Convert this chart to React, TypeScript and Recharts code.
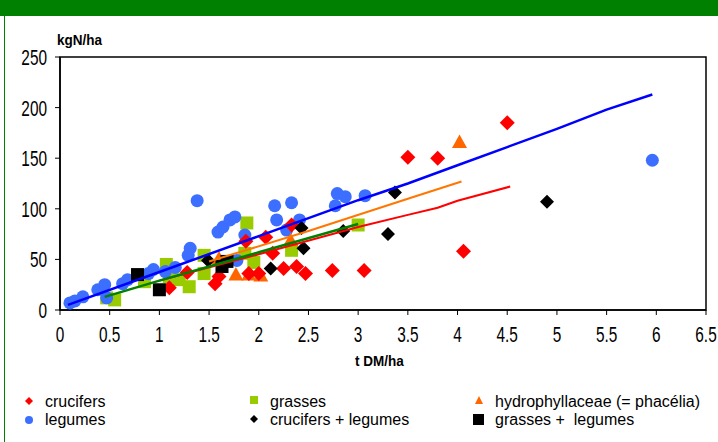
import React from "react";
import { ScatterChart, Scatter, XAxis, YAxis, ReferenceArea } from "recharts";

const xTicks = [0, 0.5, 1, 1.5, 2, 2.5, 3, 3.5, 4, 4.5, 5, 5.5, 6, 6.5];
const yTicks = [0, 50, 100, 150, 200, 250];

const legumes = [
  { x: 0.1, y: 7 }, { x: 0.15, y: 9 }, { x: 0.23, y: 13 }, { x: 0.38, y: 20 },
  { x: 0.45, y: 25 }, { x: 0.47, y: 12 }, { x: 0.63, y: 26 }, { x: 0.68, y: 30 },
  { x: 0.89, y: 36 }, { x: 0.94, y: 40 }, { x: 1.06, y: 38 }, { x: 1.16, y: 42 },
  { x: 1.29, y: 54 }, { x: 1.31, y: 61 }, { x: 1.38, y: 108 }, { x: 1.59, y: 77 },
  { x: 1.64, y: 82 }, { x: 1.71, y: 89 }, { x: 1.76, y: 92 }, { x: 1.78, y: 49 },
  { x: 1.86, y: 74 }, { x: 2.16, y: 103 }, { x: 2.18, y: 89 }, { x: 2.28, y: 79 },
  { x: 2.33, y: 106 }, { x: 2.41, y: 89 }, { x: 2.77, y: 103 }, { x: 2.79, y: 115 },
  { x: 2.87, y: 112 }, { x: 3.07, y: 113 }, { x: 5.96, y: 148 },
];

const crucifers = [
  { x: 1.1, y: 22 }, { x: 1.28, y: 37 }, { x: 1.56, y: 26 }, { x: 1.6, y: 33 },
  { x: 1.87, y: 68 }, { x: 1.9, y: 36 }, { x: 2.0, y: 36 }, { x: 2.07, y: 72 },
  { x: 2.14, y: 56 }, { x: 2.25, y: 41 }, { x: 2.33, y: 84 }, { x: 2.38, y: 43 },
  { x: 2.47, y: 36 }, { x: 2.74, y: 39 }, { x: 3.06, y: 39 }, { x: 3.5, y: 151 },
  { x: 3.8, y: 150 }, { x: 4.06, y: 58 }, { x: 4.5, y: 185 },
];

const grasses = [
  { x: 0.47, y: 12 }, { x: 0.55, y: 10 }, { x: 0.85, y: 28 }, { x: 1.07, y: 45 },
  { x: 1.1, y: 33 }, { x: 1.2, y: 30 }, { x: 1.3, y: 23 }, { x: 1.45, y: 54 },
  { x: 1.45, y: 36 }, { x: 1.86, y: 56 }, { x: 1.88, y: 86 }, { x: 1.95, y: 47 },
  { x: 2.33, y: 59 }, { x: 3.0, y: 84 },
];

const phacelia = [
  { x: 1.6, y: 51 }, { x: 1.77, y: 35 }, { x: 1.9, y: 35 }, { x: 2.02, y: 34 },
  { x: 2.32, y: 69 }, { x: 4.02, y: 166 },
];

const cruciferLegumes = [
  { x: 1.49, y: 49 }, { x: 2.12, y: 41 }, { x: 2.43, y: 81 }, { x: 2.45, y: 61 },
  { x: 2.85, y: 78 }, { x: 3.3, y: 75 }, { x: 3.37, y: 116 }, { x: 4.9, y: 107 },
];

const grassLegumes = [
  { x: 0.78, y: 35 }, { x: 1.0, y: 20 }, { x: 1.63, y: 43 }, { x: 1.68, y: 48 },
];

const legumesFit = [
  { x: 0.08, y: 5 }, { x: 1, y: 37.5 }, { x: 2, y: 73 }, { x: 3, y: 108.5 },
  { x: 3.5, y: 125 }, { x: 4, y: 143 }, { x: 4.5, y: 161 }, { x: 5, y: 179 },
  { x: 5.5, y: 198 }, { x: 5.96, y: 213 },
];
const phaceliaFit = [
  { x: 1.5, y: 48 }, { x: 2.5, y: 78 }, { x: 3.5, y: 110 }, { x: 4.04, y: 127 },
];
const cruciferFit = [
  { x: 1.0, y: 29 }, { x: 2, y: 55 }, { x: 3, y: 82 }, { x: 3.5, y: 94 },
  { x: 3.8, y: 101 }, { x: 4, y: 108 }, { x: 4.53, y: 122 },
];
const grassFit = [
  { x: 0.45, y: 13 }, { x: 1, y: 29 }, { x: 2, y: 57 }, { x: 3.0, y: 85 },
];

const FONT = "'Liberation Sans', Arial, sans-serif";

const Circle = (p: any) => <circle cx={p.cx} cy={p.cy} r={6.5} fill="#3C6EFF" />;
const RedDiamond = (p: any) => (
  <polygon points={`${p.cx},${p.cy - 7.5} ${p.cx + 7.5},${p.cy} ${p.cx},${p.cy + 7.5} ${p.cx - 7.5},${p.cy}`} fill="#FF0000" />
);
const BlackDiamond = (p: any) => (
  <polygon points={`${p.cx},${p.cy - 7} ${p.cx + 7},${p.cy} ${p.cx},${p.cy + 7} ${p.cx - 7},${p.cy}`} fill="#000000" />
);
const GreenSquare = (p: any) => <rect x={p.cx - 6.5} y={p.cy - 6.5} width={13} height={13} fill="#99CC00" />;
const BlackSquare = (p: any) => <rect x={p.cx - 6.5} y={p.cy - 6.5} width={13} height={13} fill="#000000" />;
const Triangle = (p: any) => (
  <polygon points={`${p.cx},${p.cy - 7.5} ${p.cx + 7.5},${p.cy + 6} ${p.cx - 7.5},${p.cy + 6}`} fill="#FF6600" />
);
const NoShape = () => <g />;

const XTick = (p: any) => (
  <g transform={`translate(${p.x},${p.y})`}>
    <text transform="scale(0.7,1)" textAnchor="middle" dy="0.71em" fontSize={22} fontFamily={FONT} fill="#000">
      {String(p.payload.value)}
    </text>
  </g>
);
const YTick = (p: any) => (
  <g transform={`translate(${p.x},${p.y})`}>
    <text transform="scale(0.7,1)" textAnchor="end" dy="0.36em" fontSize={22} fontFamily={FONT} fill="#000">
      {String(p.payload.value)}
    </text>
  </g>
);

const legendItems = [
  { label: "crucifers", left: 45, top: 393, m: "rd" },
  { label: "grasses", left: 270, top: 393, m: "gs" },
  { label: "hydrophyllaceae (= phacélia)", left: 495, top: 393, m: "tr" },
  { label: "legumes", left: 45, top: 411, m: "ci" },
  { label: "crucifers + legumes", left: 270, top: 411, m: "bd" },
  { label: "grasses +  legumes", left: 495, top: 411, m: "bs" },
];

const Marker = ({ m, left, top }: { m: string; left: number; top: number }) => {
  let el: any = null;
  if (m === "rd") el = <polygon points="6,2 10,6 6,10 2,6" fill="#FF0000" />;
  if (m === "gs") el = <rect x={2} y={1} width={8} height={8} fill="#99CC00" />;
  if (m === "tr") el = <polygon points="6,1 10,9 2,9" fill="#FF6600" />;
  if (m === "ci") el = <circle cx={6} cy={7} r={4} fill="#3C6EFF" />;
  if (m === "bd") el = <polygon points="6,2 10,6 6,10 2,6" fill="#000" />;
  if (m === "bs") el = <rect x={0} y={1} width={11} height={11} fill="#000" />;
  return <svg width={12} height={13} style={{ position: "absolute", left: left - 22, top: top + 2 }}>{el}</svg>;
};

export default function App() {
  return (
    <div style={{ position: "absolute", left: 0, top: 0, width: 718, height: 442, background: "#fff", overflow: "hidden" }}>
      <div style={{ position: "absolute", left: 0, top: 0, width: 718, height: 16, background: "#008000" }} />
      <div style={{ position: "absolute", left: 4, top: 16, width: 1, height: 426, background: "#008000" }} />
      <ScatterChart width={718} height={442} margin={{ top: 57, right: 12, bottom: 102, left: 0 }}>
        <XAxis
          type="number"
          dataKey="x"
          domain={[0, 6.5]}
          ticks={xTicks}
          interval={0}
          height={30}
          tickSize={5}
          tickMargin={11}
          axisLine={{ stroke: "#000", strokeWidth: 1.5 }}
          tickLine={{ stroke: "#000" }}
          tick={XTick}
          allowDataOverflow
        />
        <YAxis
          type="number"
          dataKey="y"
          domain={[0, 250]}
          ticks={yTicks}
          interval={0}
          width={60}
          tickSize={5}
          tickMargin={8}
          axisLine={{ stroke: "#000", strokeWidth: 1.5 }}
          tickLine={{ stroke: "#000" }}
          tick={YTick}
          allowDataOverflow
        />
        <ReferenceArea x1={0} x2={6.5} y1={0} y2={250} fill="none" stroke="#000" strokeWidth={1.5} ifOverflow="visible" />
        <Scatter data={grasses} shape={GreenSquare} isAnimationActive={false} />
        <Scatter data={legumes} shape={Circle} isAnimationActive={false} />
        <Scatter data={phacelia} shape={Triangle} isAnimationActive={false} />
        <Scatter data={crucifers} shape={RedDiamond} isAnimationActive={false} />
        <Scatter data={cruciferLegumes} shape={BlackDiamond} isAnimationActive={false} />
        <Scatter data={grassLegumes} shape={BlackSquare} isAnimationActive={false} />
        <Scatter data={cruciferFit} shape={NoShape} line={{ stroke: "#FF0000", strokeWidth: 2 }} isAnimationActive={false} />
        <Scatter data={phaceliaFit} shape={NoShape} line={{ stroke: "#FF7700", strokeWidth: 2 }} isAnimationActive={false} />
        <Scatter data={grassFit} shape={NoShape} line={{ stroke: "#008000", strokeWidth: 2.5 }} isAnimationActive={false} />
        <Scatter data={legumesFit} shape={NoShape} line={{ stroke: "#0000FF", strokeWidth: 2.5 }} isAnimationActive={false} />
      </ScatterChart>
      <div style={{ position: "absolute", left: 57, top: 31, fontFamily: FONT, fontWeight: "bold", fontSize: 15, transform: "scaleX(0.9)", transformOrigin: "left" }}>kgN/ha</div>
      <div style={{ position: "absolute", left: 355, top: 352, fontFamily: FONT, fontWeight: "bold", fontSize: 15, transform: "scaleX(0.9)", transformOrigin: "left" }}>t DM/ha</div>
      {legendItems.map((it) => (
        <React.Fragment key={it.label}>
          <Marker m={it.m} left={it.left} top={it.top} />
          <div style={{ position: "absolute", left: it.left, top: it.top, fontFamily: FONT, fontSize: 16, whiteSpace: "pre", lineHeight: "18px" }}>
            {it.label}
          </div>
        </React.Fragment>
      ))}
    </div>
  );
}
